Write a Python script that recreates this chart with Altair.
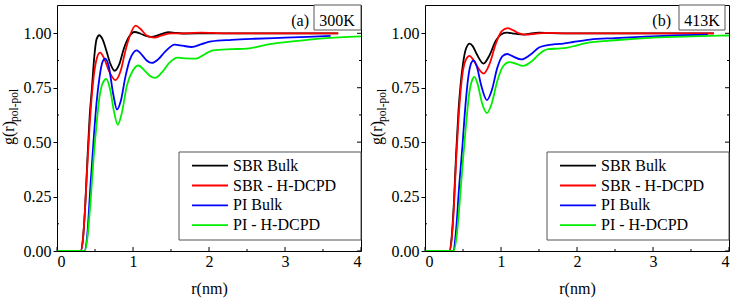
import altair as alt
import pandas as pd

FONT = "Liberation Serif"
SERIES = ["SBR Bulk", "SBR - H-DCPD", "PI Bulk", "PI - H-DCPD"]
COLORS = ["#000000", "#ff0000", "#0000ff", "#00ee00"]
PANEL_TAGS = ["(a)", "(b)"]
TEMPS = ["300K", "413K"]
X_TITLE = "r(nm)"
Y_TITLE_MAIN = "g(r)"
Y_TITLE_SUB = "pol-pol"
X_TICKS = [0, 1, 2, 3, 4]
X_MINOR = [0.5, 1.5, 2.5, 3.5]
Y_TICKS = [0, 0.25, 0.5, 0.75, 1.0]
Y_MINOR = [0.125, 0.375, 0.625, 0.875]

# ---- 300 K ----
r_sbr_bulk_300 = [0, 0.31, 0.34, 0.37, 0.40, 0.43, 0.46, 0.49, 0.52, 0.555, 0.60, 0.65, 0.70, 0.76, 0.82,
                  0.88, 0.95, 1.02, 1.10, 1.17, 1.24, 1.32, 1.40, 1.47, 1.56, 1.70, 2.00, 2.50, 3.00, 3.70]
g_sbr_bulk_300 = [0, 0, 0.05, 0.20, 0.42, 0.62, 0.75, 0.89, 0.972, 0.991, 0.972, 0.92, 0.862, 0.828, 0.858,
                  0.93, 0.985, 1.006, 0.998, 0.988, 0.984, 0.99, 1.0, 1.005, 1.002, 0.999, 1.0, 1.0, 1.0, 1.0]
r_sbr_hdcpd_300 = [0, 0.31, 0.34, 0.37, 0.40, 0.43, 0.46, 0.49, 0.52, 0.566, 0.62, 0.68, 0.77, 0.84, 0.90,
                   0.96, 1.035, 1.10, 1.18, 1.28, 1.38, 1.50, 1.70, 1.90, 2.20, 2.60, 3.00, 3.70]
g_sbr_hdcpd_300 = [0, 0, 0.05, 0.20, 0.40, 0.58, 0.72, 0.82, 0.88, 0.911, 0.885, 0.83, 0.785, 0.83, 0.92,
                   0.99, 1.035, 1.02, 0.99, 0.98, 0.99, 1.0, 1.0, 1.003, 1.0, 1.0, 1.0, 1.0]
r_pi_bulk_300 = [0, 0.36, 0.40, 0.44, 0.48, 0.52, 0.56, 0.60, 0.635, 0.68, 0.74, 0.79, 0.84, 0.90, 0.96,
                 1.05, 1.12, 1.18, 1.25, 1.33, 1.42, 1.55, 1.65, 1.77, 1.90, 2.03, 2.30, 2.60, 3.00, 3.30, 3.60]
g_pi_bulk_300 = [0, 0, 0.08, 0.30, 0.50, 0.68, 0.80, 0.87, 0.884, 0.85, 0.72, 0.65, 0.69, 0.80, 0.88,
                 0.922, 0.90, 0.875, 0.864, 0.88, 0.915, 0.948, 0.943, 0.937, 0.95, 0.963, 0.97, 0.975, 0.98, 0.984, 0.988]
r_pi_hdcpd_300 = [0, 0.365, 0.40, 0.44, 0.48, 0.52, 0.56, 0.60, 0.65, 0.70, 0.75, 0.80, 0.85, 0.92, 1.00, 1.07,
                  1.15, 1.22, 1.29, 1.38, 1.48, 1.59, 1.70, 1.83, 1.95, 2.05, 2.30, 2.50, 2.80, 3.17, 3.50, 4.00]
g_pi_hdcpd_300 = [0, 0, 0.06, 0.22, 0.42, 0.58, 0.71, 0.77, 0.79, 0.74, 0.64, 0.58, 0.63, 0.76, 0.83, 0.852,
                  0.83, 0.805, 0.795, 0.82, 0.865, 0.888, 0.885, 0.884, 0.905, 0.922, 0.927, 0.93, 0.95, 0.965, 0.977, 0.986]

# ---- 413 K ----
r_sbr_bulk_413 = [0, 0.32, 0.35, 0.38, 0.41, 0.44, 0.47, 0.50, 0.54, 0.587, 0.63, 0.68, 0.77, 0.85, 0.93,
                  1.00, 1.07, 1.15, 1.22, 1.30, 1.40, 1.50, 1.65, 1.90, 2.30, 3.00, 3.80]
g_sbr_bulk_413 = [0, 0, 0.06, 0.22, 0.45, 0.64, 0.77, 0.86, 0.93, 0.953, 0.94, 0.905, 0.861, 0.90, 0.965,
                  0.995, 1.003, 1.0, 0.996, 0.994, 1.0, 1.003, 1.001, 1.0, 1.0, 1.0, 1.0]
r_sbr_hdcpd_413 = [0, 0.32, 0.35, 0.38, 0.41, 0.44, 0.47, 0.50, 0.54, 0.587, 0.64, 0.70, 0.77, 0.85, 0.93,
                   1.01, 1.09, 1.17, 1.25, 1.33, 1.45, 1.60, 1.90, 2.40, 3.00, 3.80]
g_sbr_hdcpd_413 = [0, 0, 0.05, 0.20, 0.42, 0.60, 0.74, 0.83, 0.88, 0.896, 0.875, 0.84, 0.815, 0.86, 0.95,
                   1.01, 1.024, 1.012, 0.998, 0.994, 0.998, 1.002, 1.0, 1.0, 1.0, 1.0]
r_pi_bulk_413 = [0, 0.37, 0.41, 0.45, 0.49, 0.53, 0.57, 0.61, 0.64, 0.68, 0.74, 0.815, 0.88, 0.95, 1.02,
                 1.083, 1.15, 1.27, 1.38, 1.50, 1.60, 1.72, 1.82, 1.95, 2.17, 2.50, 2.90, 3.30, 3.72]
g_pi_bulk_413 = [0, 0, 0.10, 0.30, 0.47, 0.66, 0.80, 0.865, 0.876, 0.85, 0.76, 0.693, 0.74, 0.84, 0.895,
                 0.905, 0.895, 0.88, 0.90, 0.935, 0.945, 0.95, 0.953, 0.96, 0.971, 0.978, 0.985, 0.99, 0.994]
r_pi_hdcpd_413 = [0, 0.38, 0.42, 0.46, 0.50, 0.54, 0.58, 0.62, 0.65, 0.69, 0.75, 0.815, 0.88, 0.95, 1.03,
                  1.11, 1.20, 1.29, 1.40, 1.52, 1.62, 1.75, 1.86, 2.00, 2.12, 2.50, 3.00, 3.50, 4.00]
g_pi_hdcpd_413 = [0, 0, 0.08, 0.24, 0.42, 0.58, 0.72, 0.785, 0.80, 0.77, 0.68, 0.634, 0.68, 0.78, 0.85,
                  0.868, 0.86, 0.85, 0.87, 0.91, 0.927, 0.93, 0.933, 0.945, 0.955, 0.968, 0.98, 0.986, 0.99]

W, H = 304, 246


def make_df(curves):
    rows = []
    for name, (rs, gs) in zip(SERIES, curves):
        for r, g in zip(rs, gs):
            rows.append({"r": r, "g": g, "series": name})
    return pd.DataFrame(rows)


df300 = make_df([(r_sbr_bulk_300, g_sbr_bulk_300), (r_sbr_hdcpd_300, g_sbr_hdcpd_300),
                  (r_pi_bulk_300, g_pi_bulk_300), (r_pi_hdcpd_300, g_pi_hdcpd_300)])
df413 = make_df([(r_sbr_bulk_413, g_sbr_bulk_413), (r_sbr_hdcpd_413, g_sbr_hdcpd_413),
                 (r_pi_bulk_413, g_pi_bulk_413), (r_pi_hdcpd_413, g_pi_hdcpd_413)])


def panel(df, tag, temp, tag_x, box_x0, box_x1, temp_x):
    xs = alt.Scale(domain=[0, 4], nice=False, zero=False)
    ys = alt.Scale(domain=[0, 1.13], nice=False, zero=False)
    xaxis = alt.Axis(values=X_TICKS, format="d", title=X_TITLE, ticks=False, domain=False, grid=False,
                     labelPadding=2, titlePadding=11, labelFont=FONT, labelFontSize=16, labelColor="black",
                     titleFont=FONT, titleFontSize=16, titleFontWeight="normal", titleColor="black")
    yaxis = alt.Axis(values=Y_TICKS, format=".2f", title=None, tickSize=4, tickColor="black", domain=False,
                     grid=False, labelPadding=2, labelFont=FONT, labelFontSize=16, labelColor="black")
    color = alt.Color("series:N", scale=alt.Scale(domain=SERIES, range=COLORS),
                      legend=alt.Legend(title=None, orient="none", legendX=143, legendY=150.7,
                                        direction="vertical", symbolType="M-2,0H2", symbolSize=324,
                                        symbolStrokeWidth=1.8, symbolOffset=0, labelOffset=13,
                                        rowPadding=1.8, padding=0, labelFont=FONT, labelFontSize=16,
                                        labelColor="black", labelLimit=0))
    layers = []
    for s in SERIES:
        layers.append(
            alt.Chart(df).transform_filter(alt.datum.series == s)
            .mark_line(strokeWidth=1.8, interpolate="monotone", clip=True)
            .encode(x=alt.X("r:Q", scale=xs, axis=xaxis), y=alt.Y("g:Q", scale=ys, axis=yaxis), color=color)
        )

    def xt(vals, length):
        return alt.Chart(pd.DataFrame({"v": vals})).mark_rule(color="black", strokeWidth=1).encode(
            x=alt.X("v:Q", scale=xs, axis=xaxis), y=alt.value(H), y2=alt.value(H - length))

    def yt(vals, x0, x1):
        return alt.Chart(pd.DataFrame({"v": vals})).mark_rule(color="black", strokeWidth=1).encode(
            y=alt.Y("v:Q", scale=ys, axis=yaxis), x=alt.value(x0), x2=alt.value(x1))

    layers += [xt(X_TICKS, 4), xt(X_MINOR, 2), yt(Y_TICKS, W, W - 4), yt(Y_MINOR, W, W - 2), yt(Y_MINOR, 0, 2)]

    one = pd.DataFrame({"tag": [tag], "temp": [temp], "main": [Y_TITLE_MAIN], "sub": [Y_TITLE_SUB]})
    legend_box = alt.Chart(one).mark_rect(fill="white", stroke="#555555", strokeWidth=1).encode(
        x=alt.value(122), x2=alt.value(W), y=alt.value(147), y2=alt.value(235))
    temp_box = alt.Chart(one).mark_rect(fill="white", stroke="#555555", strokeWidth=1).encode(
        x=alt.value(box_x0), x2=alt.value(box_x1), y=alt.value(0), y2=alt.value(25))
    tag_text = alt.Chart(one).mark_text(font=FONT, fontSize=16, align="right", baseline="middle",
                                        color="black").encode(text="tag:N", x=alt.value(tag_x), y=alt.value(15.7))
    temp_text = alt.Chart(one).mark_text(font=FONT, fontSize=16, align="center", baseline="middle",
                                         color="black").encode(text="temp:N", x=alt.value(temp_x), y=alt.value(15.7))
    ymain = alt.Chart(one).mark_text(font=FONT, fontSize=16, angle=270, align="left", baseline="alphabetic",
                                     color="black").encode(text="main:N", x=alt.value(-43), y=alt.value(140))
    ysub = alt.Chart(one).mark_text(font=FONT, fontSize=11.5, angle=270, align="left", baseline="alphabetic",
                                    color="black").encode(text="sub:N", x=alt.value(-39), y=alt.value(117))
    layers += [legend_box, temp_box, tag_text, temp_text, ymain, ysub]
    return alt.layer(*layers).properties(width=W, height=H)


left = panel(df300, PANEL_TAGS[0], TEMPS[0], 252, 257, 304, 280)
right = panel(df413, PANEL_TAGS[1], TEMPS[1], 246, 254, 300, 277)

chart = (
    alt.hconcat(left, right, spacing=6)
    .resolve_scale(color="independent")
    .properties(padding={"left": 0, "top": 4, "right": 0, "bottom": 2}, background="white")
    .configure_view(stroke="black", strokeWidth=1)
)

chart.save("out.html", embed_options={"renderer": "svg", "actions": False})
